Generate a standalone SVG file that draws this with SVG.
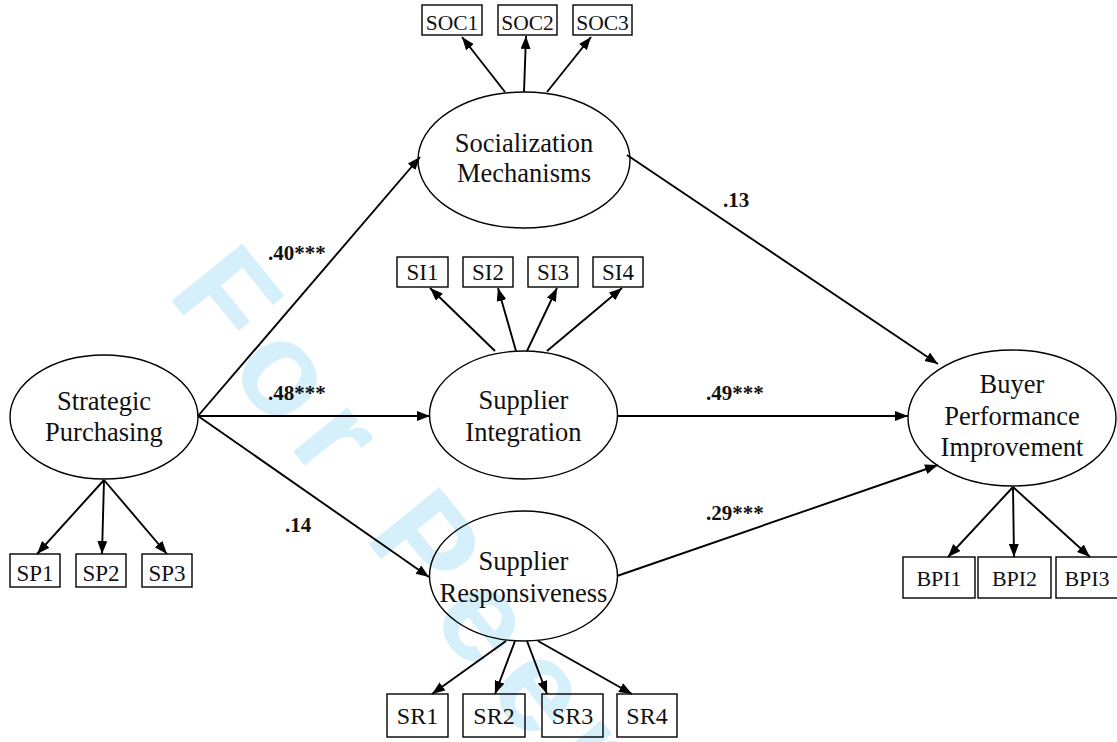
<svg xmlns="http://www.w3.org/2000/svg" width="1117" height="742" viewBox="0 0 1117 742">
<defs>
<marker id="ah" markerUnits="userSpaceOnUse" markerWidth="14" markerHeight="12" refX="13" refY="5" orient="auto"><path d="M0,0 L13,5 L0,10 z" fill="#000"/></marker>
<style>
.lat{fill:none;stroke:#000;stroke-width:1.4}
.box{fill:none;stroke:#000;stroke-width:1.4}
.lt{font-family:"Liberation Serif","Times New Roman",serif;font-size:26.5px;fill:#111;text-anchor:middle}
.bt{font-family:"Liberation Serif","Times New Roman",serif;fill:#111;text-anchor:middle}
.cn{stroke:#000;stroke-width:1.9;fill:none;marker-end:url(#ah)}
.lb{font-family:"Liberation Serif","Times New Roman",serif;font-size:21px;font-weight:bold;fill:#111}
.wm{font-family:"Liberation Sans",Arial,sans-serif;font-weight:bold;font-size:132px;fill:#d5effb}
</style>
</defs>
<rect width="1117" height="742" fill="#fff"/>
<text class="wm" transform="translate(166,294) rotate(51)" letter-spacing="16">For Peer</text>
<g id="connectors">
<line class="cn" x1="198" y1="416" x2="420" y2="157"/>
<line class="cn" x1="198" y1="416" x2="430" y2="416"/>
<line class="cn" x1="198" y1="416" x2="429" y2="577"/>
<line class="cn" x1="627" y1="155" x2="938" y2="364"/>
<line class="cn" x1="617" y1="416" x2="908" y2="416"/>
<line class="cn" x1="617" y1="576" x2="938" y2="465"/>
<line class="cn" x1="505" y1="92" x2="462" y2="37"/>
<line class="cn" x1="524" y1="92" x2="526" y2="36"/>
<line class="cn" x1="547" y1="92" x2="591" y2="37"/>
<line class="cn" x1="495" y1="351" x2="430" y2="288"/>
<line class="cn" x1="516" y1="351" x2="498" y2="288"/>
<line class="cn" x1="527" y1="351" x2="557" y2="288"/>
<line class="cn" x1="547" y1="351" x2="622" y2="288"/>
<line class="cn" x1="506" y1="641" x2="432" y2="694"/>
<line class="cn" x1="515" y1="641" x2="495" y2="694"/>
<line class="cn" x1="527" y1="641" x2="547" y2="694"/>
<line class="cn" x1="538" y1="641" x2="632" y2="694"/>
<line class="cn" x1="104" y1="480" x2="37" y2="554"/>
<line class="cn" x1="104" y1="480" x2="102" y2="554"/>
<line class="cn" x1="104" y1="480" x2="167" y2="554"/>
<line class="cn" x1="1013" y1="487" x2="948" y2="557"/>
<line class="cn" x1="1013" y1="487" x2="1014" y2="557"/>
<line class="cn" x1="1013" y1="487" x2="1090" y2="557"/>
</g>
<g id="labels">
<text class="lb" x="268" y="260">.40***</text>
<text class="lb" x="268" y="400">.48***</text>
<text class="lb" x="285" y="532">.14</text>
<text class="lb" x="723" y="207">.13</text>
<text class="lb" x="706" y="400">.49***</text>
<text class="lb" x="706" y="520">.29***</text>
</g>
<g id="sp"><ellipse class="lat" cx="104" cy="417" rx="94" ry="62"/><text class="lt" x="104" y="410">Strategic</text><text class="lt" x="104" y="441">Purchasing</text></g>
<g id="soc"><ellipse class="lat" cx="524" cy="160" rx="106" ry="68"/><text class="lt" x="524" y="152">Socialization</text><text class="lt" x="524" y="182">Mechanisms</text></g>
<g id="si"><ellipse class="lat" cx="523.5" cy="415" rx="94" ry="64"/><text class="lt" x="523.5" y="409">Supplier</text><text class="lt" x="523.5" y="441">Integration</text></g>
<g id="sr"><ellipse class="lat" cx="523.5" cy="576" rx="94" ry="65"/><text class="lt" x="523.5" y="570">Supplier</text><text class="lt" x="523.5" y="602">Responsiveness</text></g>
<g id="bpi"><ellipse class="lat" cx="1012" cy="418" rx="104" ry="68"/><text class="lt" x="1012" y="393">Buyer</text><text class="lt" x="1012" y="425">Performance</text><text class="lt" x="1012" y="456">Improvement</text></g>
<g id="soc1"><rect class="box" x="422" y="5" width="60" height="30"/><text class="bt" x="452" y="30" font-size="21.5">SOC1</text></g>
<g id="soc2"><rect class="box" x="498" y="5" width="59" height="30"/><text class="bt" x="527.5" y="30" font-size="21.5">SOC2</text></g>
<g id="soc3"><rect class="box" x="573" y="5" width="59" height="30"/><text class="bt" x="602.5" y="30" font-size="21.5">SOC3</text></g>
<g id="si1"><rect class="box" x="397" y="257" width="51" height="30"/><text class="bt" x="422.5" y="280" font-size="23">SI1</text></g>
<g id="si2"><rect class="box" x="463" y="257" width="50" height="30"/><text class="bt" x="488" y="280" font-size="23">SI2</text></g>
<g id="si3"><rect class="box" x="528" y="257" width="50" height="30"/><text class="bt" x="553" y="280" font-size="23">SI3</text></g>
<g id="si4"><rect class="box" x="593" y="257" width="50" height="30"/><text class="bt" x="618" y="280" font-size="23">SI4</text></g>
<g id="sp1"><rect class="box" x="10" y="554" width="50" height="33"/><text class="bt" x="35" y="581" font-size="23">SP1</text></g>
<g id="sp2"><rect class="box" x="76" y="554" width="50" height="33"/><text class="bt" x="101" y="581" font-size="23">SP2</text></g>
<g id="sp3"><rect class="box" x="142" y="554" width="50" height="33"/><text class="bt" x="167" y="581" font-size="23">SP3</text></g>
<g id="sr1"><rect class="box" x="387" y="694" width="61" height="43"/><text class="bt" x="417.5" y="724" font-size="24">SR1</text></g>
<g id="sr2"><rect class="box" x="463" y="694" width="62" height="43"/><text class="bt" x="494" y="724" font-size="24">SR2</text></g>
<g id="sr3"><rect class="box" x="542" y="694" width="61" height="43"/><text class="bt" x="572.5" y="724" font-size="24">SR3</text></g>
<g id="sr4"><rect class="box" x="617" y="694" width="60" height="43"/><text class="bt" x="647" y="724" font-size="24">SR4</text></g>
<g id="bpi1"><rect class="box" x="903" y="557" width="72" height="41"/><text class="bt" x="939" y="586" font-size="22">BPI1</text></g>
<g id="bpi2"><rect class="box" x="978" y="557" width="73" height="41"/><text class="bt" x="1014.5" y="586" font-size="22">BPI2</text></g>
<g id="bpi3"><rect class="box" x="1056" y="557" width="62" height="41"/><text class="bt" x="1087" y="586" font-size="22">BPI3</text></g>
</svg>
